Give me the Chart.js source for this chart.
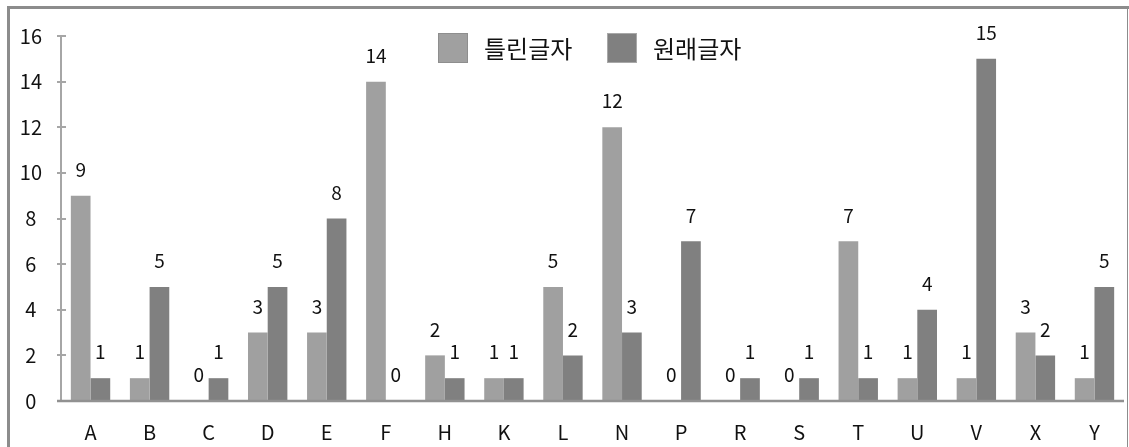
<!DOCTYPE html>
<html>
<head>
<meta charset="utf-8">
<script src="https://cdn.jsdelivr.net/npm/chart.js@4.4.1/dist/chart.umd.min.js"></script>
<style>
  html, body { margin: 0; padding: 0; background: #fff; }
  #wrap { width: 1129px; height: 447px; }
</style>
</head>
<body>
<div id="wrap"><canvas id="chart" width="1129" height="447"></canvas></div>
<script>
const categories = ["A", "B", "C", "D", "E", "F", "H", "K", "L", "N", "P", "R", "S", "T", "U", "V", "X", "Y"];
const wrongChars = [9, 1, 0, 3, 3, 14, 2, 1, 5, 12, 0, 0, 0, 7, 1, 1, 3, 1];
const originalChars = [1, 5, 1, 5, 8, 0, 1, 1, 2, 3, 7, 1, 1, 1, 4, 15, 2, 5];
const seriesNames = ["틀린글자", "원래글자"];
const yTicks = [0, 2, 4, 6, 8, 10, 12, 14, 16];

const FONT = "'Noto Sans CJK KR', 'Noto Sans', sans-serif";
const lightGray = "#a0a0a0";
const darkGray = "#808080";

// 바깥 테두리
const framePlugin = {
  id: "frame",
  beforeDraw(chart) {
    const ctx = chart.ctx;
    ctx.save();
    ctx.fillStyle = "#fff";
    ctx.fillRect(0, 0, chart.width, chart.height);
    ctx.fillStyle = "#8c8c8c";
    ctx.fillRect(7, 6, 1122, 3);   // top
    ctx.fillRect(7, 6, 3, 441);    // left
    ctx.fillRect(1127, 6, 1, 441); // right
    ctx.restore();
  }
};

// 축선, 눈금, 값 라벨, 범례
const decoPlugin = {
  id: "deco",
  afterDraw(chart) {
    const ctx = chart.ctx;
    const y = chart.scales.y;
    const area = chart.chartArea;
    ctx.save();

    // y axis line + crossing ticks
    ctx.strokeStyle = "#a6a6a6";
    ctx.lineWidth = 2;
    ctx.beginPath();
    ctx.moveTo(area.left, y.getPixelForValue(16));
    ctx.lineTo(area.left, y.getPixelForValue(0));
    yTicks.forEach(v => {
      const py = Math.round(y.getPixelForValue(v));
      ctx.moveTo(area.left - 4, py);
      ctx.lineTo(area.left + 5, py);
    });
    ctx.stroke();

    // x axis line
    ctx.strokeStyle = "#919191";
    ctx.lineWidth = 2.5;
    ctx.beginPath();
    const by = y.getPixelForValue(0);
    ctx.moveTo(area.left - 4, by);
    ctx.lineTo(area.right, by);
    ctx.stroke();

    // value labels
    ctx.fillStyle = "#111";
    ctx.font = "19px " + FONT;
    ctx.textAlign = "center";
    ctx.textBaseline = "middle";
    chart.data.datasets.forEach((ds, di) => {
      const meta = chart.getDatasetMeta(di);
      meta.data.forEach((bar, i) => {
        ctx.fillText(String(ds.data[i]), bar.x, bar.y - 26);
      });
    });

    // legend
    ctx.font = "24px " + FONT;
    ctx.textAlign = "left";
    const boxX = [438, 607];
    const ly = 33;
    chart.data.datasets.forEach((ds, di) => {
      const lx = boxX[di];
      ctx.fillStyle = ds.backgroundColor;
      ctx.fillRect(lx, ly, 30, 30);
      ctx.strokeStyle = ds.legendBorder;
      ctx.lineWidth = 1;
      ctx.strokeRect(lx + 0.5, ly + 0.5, 29, 29);
      ctx.fillStyle = "#111";
      ctx.fillText(ds.label, lx + 46, ly + 16);
    });

    ctx.restore();
  }
};

new Chart(document.getElementById("chart"), {
  type: "bar",
  data: {
    labels: categories,
    datasets: [
      { label: seriesNames[0], data: wrongChars, backgroundColor: lightGray, legendBorder: "#8e8e8e", borderWidth: 0 },
      { label: seriesNames[1], data: originalChars, backgroundColor: darkGray, legendBorder: "#a8a8a8", borderWidth: 0 }
    ]
  },
  options: {
    responsive: false,
    animation: false,
    categoryPercentage: 0.667,
    barPercentage: 1.0,
    layout: { padding: { top: 36, right: 5, bottom: 0, left: 0 } },
    plugins: {
      legend: { display: false },
      tooltip: { enabled: false }
    },
    scales: {
      x: {
        grid: { display: false, drawTicks: false },
        border: { display: false },
        ticks: { color: "#111", font: { family: FONT, size: 20 }, padding: 19, maxRotation: 0 },
        afterFit(scale) { scale.height = 46; }
      },
      y: {
        min: 0,
        max: 16,
        grid: { display: false, drawTicks: false },
        border: { display: false },
        afterBuildTicks(scale) { scale.ticks = yTicks.map(v => ({ value: v })); },
        ticks: { color: "#111", font: { family: FONT, size: 20 }, padding: 19, crossAlign: "center" },
        afterFit(scale) { scale.width = 61; }
      }
    }
  },
  plugins: [framePlugin, decoPlugin]
});
</script>
</body>
</html>
